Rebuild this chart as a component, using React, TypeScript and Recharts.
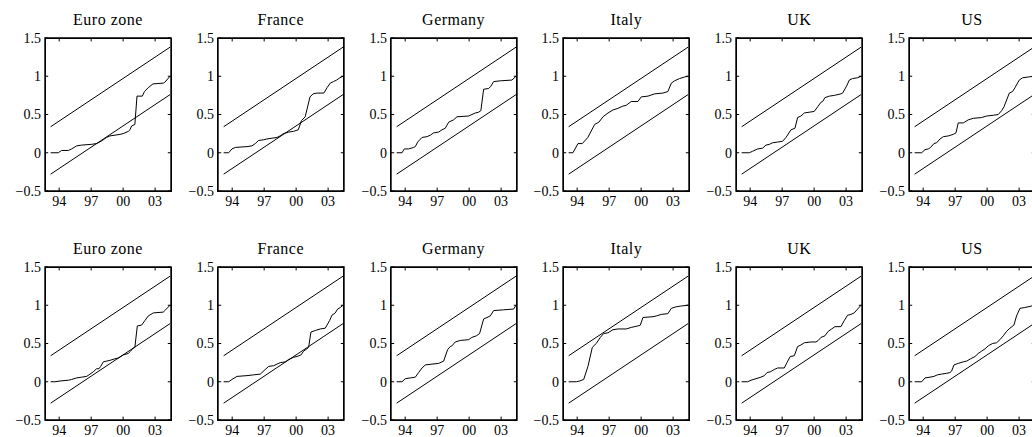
import React from 'react';
import { LineChart, Line, XAxis, YAxis, ReferenceArea, ReferenceLine } from 'recharts';

type Pt = [number, number];

const COUNTRIES = ['Euro zone', 'France', 'Germany', 'Italy', 'UK', 'US'];
const X_TICKS = [1994, 1997, 2000, 2003];
const X_TICK_LABELS = ['94', '97', '00', '03'];
const Y_TICKS = [-0.5, 0, 0.5, 1, 1.5];
const Y_TICK_LABELS = ['\u22120.5', '0', '0.5', '1', '1.5'];
const BAND_YEARS = [1993.2, 2004.4];
const UPPER_BAND = [0.34, 1.38];
const LOWER_BAND = [-0.28, 0.76];

// Row 1
const EURO_1: Pt[] = [[1993.2,0],[1993.92,0],[1994.23,0.03],[1994.86,0.03],[1995.17,0.05],[1995.64,0.09],[1996.1,0.1],[1997.04,0.11],[1997.5,0.12],[1997.8,0.14],[1998.14,0.17],[1998.45,0.2],[1998.76,0.22],[1999.7,0.24],[2000.0,0.25],[2000.5,0.28],[2000.6,0.29],[2000.8,0.35],[2001.1,0.37],[2001.3,0.74],[2001.8,0.74],[2002.0,0.8],[2002.35,0.85],[2002.8,0.9],[2003.76,0.91],[2003.9,0.92],[2004.4,1.0]];
const FRANCE_1: Pt[] = [[1993.2,0],[1993.67,0],[1993.98,0.05],[1994.3,0.07],[1995.39,0.08],[1995.86,0.09],[1996.17,0.12],[1996.48,0.16],[1996.95,0.17],[1997.26,0.18],[1997.73,0.19],[1998.2,0.2],[1998.5,0.22],[1998.8,0.25],[1999.3,0.27],[1999.76,0.28],[2000.2,0.3],[2000.5,0.42],[2000.85,0.47],[2001.3,0.73],[2001.6,0.77],[2001.95,0.78],[2002.6,0.78],[2002.9,0.85],[2003.2,0.91],[2003.5,0.93],[2003.8,0.95],[2004.1,0.98],[2004.4,1.0]];
const GERMANY_1: Pt[] = [[1993.2,0],[1993.7,0],[1993.92,0.05],[1994.33,0.05],[1994.8,0.07],[1994.95,0.08],[1995.17,0.14],[1995.58,0.2],[1996.04,0.21],[1996.36,0.23],[1996.67,0.26],[1997.14,0.27],[1997.45,0.3],[1997.76,0.32],[1998.08,0.4],[1998.54,0.43],[1998.86,0.47],[1999.95,0.48],[2000.26,0.5],[2000.58,0.52],[2000.89,0.53],[2001.1,0.55],[2001.36,0.83],[2001.83,0.84],[2002.04,0.87],[2002.3,0.93],[2002.92,0.94],[2004.01,0.95],[2004.4,1.0]];
const ITALY_1: Pt[] = [[1993.2,0],[1993.6,0],[1994.08,0.12],[1994.48,0.12],[1995.0,0.2],[1995.64,0.37],[1996.04,0.4],[1996.42,0.47],[1996.89,0.52],[1997.36,0.56],[1997.82,0.58],[1998.29,0.61],[1998.6,0.62],[1999.07,0.67],[1999.7,0.67],[2000.01,0.73],[2000.64,0.74],[2001.26,0.77],[2002.04,0.78],[2002.51,0.8],[2002.83,0.91],[2003.14,0.94],[2003.6,0.97],[2004.07,0.99],[2004.4,1.0]];
const UK_1: Pt[] = [[1993.2,0],[1993.92,0],[1994.23,0.02],[1994.7,0.05],[1995.17,0.06],[1995.48,0.1],[1995.8,0.11],[1996.1,0.13],[1996.58,0.14],[1997.04,0.15],[1997.36,0.2],[1997.83,0.3],[1998.2,0.32],[1998.45,0.46],[1998.76,0.48],[1999.08,0.52],[1999.54,0.53],[2000.01,0.54],[2000.33,0.6],[2000.64,0.66],[2000.8,0.67],[2001.01,0.72],[2001.42,0.74],[2001.89,0.75],[2002.51,0.77],[2002.67,0.78],[2003.04,0.87],[2003.3,0.95],[2003.61,0.97],[2004.08,0.98],[2004.4,1.0]];
const US_1: Pt[] = [[1993.2,0],[1993.86,0],[1994.17,0.04],[1994.48,0.05],[1994.7,0.07],[1995.01,0.12],[1995.26,0.13],[1995.58,0.18],[1995.89,0.21],[1996.36,0.22],[1996.82,0.24],[1997.08,0.26],[1997.29,0.39],[1997.76,0.39],[1998.23,0.43],[1998.7,0.45],[1999.48,0.46],[1999.95,0.48],[2000.58,0.49],[2001.04,0.5],[2001.36,0.55],[2001.58,0.6],[2002.08,0.78],[2002.39,0.8],[2002.61,0.85],[2003.01,0.95],[2003.33,0.98],[2003.86,0.99],[2004.4,1.0]];

// Row 2
const EURO_2: Pt[] = [[1993.2,0],[1993.6,0],[1994.08,0.01],[1994.86,0.02],[1995.17,0.03],[1995.64,0.05],[1996.1,0.06],[1996.58,0.07],[1996.89,0.1],[1997.2,0.13],[1997.51,0.17],[1997.73,0.17],[1997.89,0.2],[1998.14,0.26],[1998.45,0.27],[1998.76,0.28],[1999.23,0.3],[1999.54,0.31],[2000.01,0.35],[2000.48,0.37],[2000.7,0.4],[2000.95,0.44],[2001.1,0.45],[2001.33,0.73],[2001.73,0.74],[2002.04,0.8],[2002.36,0.86],[2002.83,0.9],[2003.76,0.91],[2003.98,0.94],[2004.4,1.0]];
const FRANCE_2: Pt[] = [[1993.2,0],[1993.67,0],[1993.98,0.03],[1994.45,0.07],[1995.39,0.08],[1996.01,0.09],[1996.64,0.1],[1997.1,0.16],[1997.42,0.2],[1997.89,0.21],[1998.2,0.23],[1998.51,0.25],[1998.98,0.26],[1999.29,0.29],[1999.76,0.32],[2000.08,0.33],[2000.45,0.35],[2000.7,0.4],[2001.01,0.43],[2001.17,0.45],[2001.39,0.65],[2001.8,0.67],[2002.26,0.69],[2002.73,0.7],[2003.14,0.8],[2003.36,0.87],[2003.67,0.9],[2003.89,0.95],[2004.14,0.97],[2004.4,1.0]];
const GERMANY_2: Pt[] = [[1993.2,0],[1993.7,0],[1994.01,0.04],[1994.48,0.05],[1994.95,0.06],[1995.26,0.12],[1995.58,0.18],[1995.89,0.22],[1996.51,0.23],[1997.14,0.24],[1997.61,0.27],[1997.98,0.42],[1998.23,0.46],[1998.39,0.47],[1998.7,0.52],[1999.17,0.54],[1999.95,0.55],[2000.26,0.58],[2000.67,0.6],[2000.98,0.63],[2001.36,0.82],[2001.67,0.84],[2001.98,0.86],[2002.3,0.93],[2003.23,0.94],[2004.17,0.95],[2004.4,1.0]];
const ITALY_2: Pt[] = [[1993.2,0],[1993.92,0],[1994.23,0.01],[1994.61,0.03],[1995.01,0.2],[1995.42,0.45],[1995.79,0.5],[1996.17,0.58],[1996.48,0.63],[1996.89,0.64],[1997.36,0.68],[1997.82,0.69],[1998.6,0.69],[1999.07,0.71],[1999.7,0.73],[1999.92,0.74],[2000.17,0.84],[2001.11,0.85],[2001.42,0.86],[2001.89,0.88],[2002.51,0.89],[2002.83,0.96],[2003.29,0.98],[2003.76,0.99],[2004.4,1.0]];
const UK_2: Pt[] = [[1993.2,0],[1993.76,0],[1994.08,0.02],[1994.54,0.04],[1995.01,0.06],[1995.33,0.08],[1995.58,0.12],[1995.89,0.13],[1996.26,0.16],[1996.58,0.18],[1997.2,0.18],[1997.45,0.25],[1997.76,0.33],[1998.14,0.34],[1998.45,0.46],[1998.76,0.48],[1999.08,0.51],[1999.7,0.52],[2000.17,0.52],[2000.39,0.54],[2000.64,0.58],[2001.01,0.6],[2001.33,0.66],[2001.64,0.69],[2001.95,0.72],[2002.51,0.72],[2002.83,0.8],[2003.14,0.87],[2003.45,0.88],[2003.76,0.9],[2004.08,0.95],[2004.4,1.0]];
const US_2: Pt[] = [[1993.2,0],[1993.86,0],[1994.17,0.05],[1994.64,0.06],[1995.01,0.07],[1995.33,0.09],[1995.73,0.1],[1996.2,0.11],[1996.51,0.12],[1996.67,0.14],[1996.89,0.22],[1997.29,0.24],[1997.76,0.26],[1998.08,0.27],[1998.45,0.3],[1998.86,0.33],[1999.17,0.37],[1999.48,0.4],[1999.8,0.43],[2000.11,0.47],[2000.51,0.5],[2000.89,0.51],[2001.2,0.55],[2001.51,0.6],[2001.83,0.66],[2002.14,0.7],[2002.51,0.74],[2002.76,0.86],[2003.08,0.96],[2003.54,0.97],[2004.17,0.99],[2004.4,1.0]];

const ROW_1: Pt[][] = [EURO_1, FRANCE_1, GERMANY_1, ITALY_1, UK_1, US_1];
const ROW_2: Pt[][] = [EURO_2, FRANCE_2, GERMANY_2, ITALY_2, UK_2, US_2];

const FONT = '"Liberation Serif", "Times New Roman", serif';
const BOX_W = 126;
const BOX_H = 153;
const X_DOMAIN: [number, number] = [1992.67, 2004.49];
const Y_DOMAIN: [number, number] = [-0.5, 1.5];
const X_TICK_LEN = 0.3;
const Y_TICK_LEN = 0.045;

function Panel({ title, series, boxLeft, boxTop }: { title: string; series: Pt[]; boxLeft: number; boxTop: number }) {
  const seriesData = series.map(([x, y]) => ({ x, y }));
  const upper = BAND_YEARS.map((x, i) => ({ x, y: UPPER_BAND[i] }));
  const lower = BAND_YEARS.map((x, i) => ({ x, y: LOWER_BAND[i] }));
  const W = 45 + BOX_W + 9;
  const H = 38 + BOX_H + 30;
  const tickStyle = { fill: '#000', fontSize: 14, fontFamily: FONT };
  const [x0, x1] = X_DOMAIN;
  const [y0, y1] = Y_DOMAIN;
  const tickSegs: { x: number; y: number }[][] = [];
  X_TICKS.forEach((t) => {
    tickSegs.push([{ x: t, y: y0 }, { x: t, y: y0 + Y_TICK_LEN }]);
    tickSegs.push([{ x: t, y: y1 }, { x: t, y: y1 - Y_TICK_LEN }]);
  });
  Y_TICKS.forEach((t) => {
    tickSegs.push([{ x: x0, y: t }, { x: x0 + X_TICK_LEN, y: t }]);
    tickSegs.push([{ x: x1, y: t }, { x: x1 - X_TICK_LEN, y: t }]);
  });
  return (
    <>
      <div
        style={{
          position: 'absolute',
          left: boxLeft - 20,
          width: BOX_W + 40,
          top: boxTop - 26.4,
          textAlign: 'center',
          fontFamily: FONT,
          fontSize: 16,
          lineHeight: '16px',
          letterSpacing: '0.5px',
          color: '#000',
          whiteSpace: 'nowrap',
        }}
      >
        {title}
      </div>
      <div style={{ position: 'absolute', left: boxLeft - 45, top: boxTop - 38, width: W, height: H }}>
        <LineChart width={W} height={H} margin={{ top: 38, left: 5, right: 9, bottom: 5 }}>
          <XAxis
            dataKey="x"
            type="number"
            domain={X_DOMAIN}
            allowDataOverflow
            ticks={X_TICKS}
            interval={0}
            tickFormatter={(v: number) => X_TICK_LABELS[X_TICKS.indexOf(v)]}
            height={25}
            tickSize={0}
            tickMargin={5}
            tick={tickStyle}
            axisLine={false}
            tickLine={false}
          />
          <YAxis
            type="number"
            domain={Y_DOMAIN}
            allowDataOverflow
            ticks={Y_TICKS}
            interval={0}
            tickFormatter={(v: number) => Y_TICK_LABELS[Y_TICKS.indexOf(v)]}
            width={40}
            tickSize={0}
            tickMargin={4}
            tick={tickStyle}
            axisLine={false}
            tickLine={false}
          />
          <ReferenceArea x1={x0} x2={x1} y1={y0} y2={y1} fill="none" stroke="#000" strokeWidth={1.4} ifOverflow="visible" />
          {tickSegs.map((seg, k) => (
            <ReferenceLine key={k} segment={seg} stroke="#000" strokeWidth={1} ifOverflow="visible" />
          ))}
          <Line data={upper} dataKey="y" type="linear" stroke="#000" strokeWidth={1} dot={false} isAnimationActive={false} />
          <Line data={lower} dataKey="y" type="linear" stroke="#000" strokeWidth={1} dot={false} isAnimationActive={false} />
          <Line data={seriesData} dataKey="y" type="linear" stroke="#000" strokeWidth={1} dot={false} isAnimationActive={false} />
        </LineChart>
      </div>
      <div
        style={{
          position: 'absolute',
          left: boxLeft - 0.5,
          top: boxTop - 0.5,
          width: BOX_W + 1,
          height: BOX_H + 1,
          boxSizing: 'border-box',
          border: '1px solid #000',
          pointerEvents: 'none',
        }}
      />
    </>
  );
}

export default function App() {
  const rows = [
    { top: 38, data: ROW_1 },
    { top: 267, data: ROW_2 },
  ];
  return (
    <div style={{ position: 'fixed', left: 0, top: 0, width: 1032, height: 437, overflow: 'hidden', background: '#fff' }}>
      {rows.map((row, r) =>
        COUNTRIES.map((c, i) => (
          <Panel key={`${r}-${i}`} title={c} series={row.data[i]} boxLeft={45 + i * 172.8} boxTop={row.top} />
        ))
      )}
    </div>
  );
}
